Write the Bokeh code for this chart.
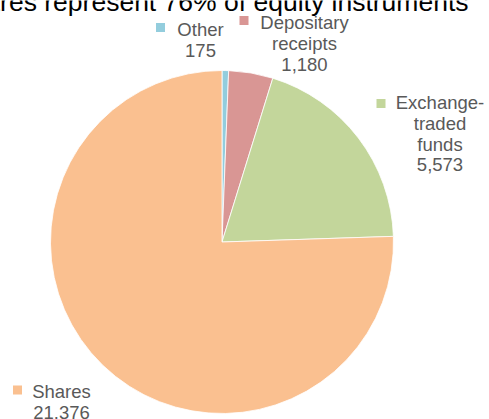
import numpy as np
from bokeh.plotting import figure
from bokeh.models import Range1d, ColumnDataSource
from bokeh.core.properties import value
from bokeh.embed import file_html
from bokeh.resources import INLINE

# ---- data ----
categories = ["Other", "Depositary\nreceipts", "Exchange-\ntraded\nfunds", "Shares"]
values = [175, 1180, 5573, 21376]
value_labels = ["175", "1,180", "5,573", "21.376"]
colors = ["#93CDDD", "#D99694", "#C3D69B", "#FAC090"]
title_text = "Shares represent 76% of equity instruments"

# ---- layout (screen pixels inside the figure, y up) ----
W, H = 489, 419
cx, cy, r = 221.5, 177.5, 171.5
# label anchors: (center x of text, baseline of first line), marker centre
label_anchor = [(200, 390), (304, 396.7), (439.5, 316.7), (61, 28)]
marker_pos = [(160, 392), (243.5, 399), (380.5, 316), (17, 29.5)]
line_step = 20.6

p = figure(width=W, height=H, output_backend="svg", toolbar_location=None,
           x_range=Range1d(0, W), y_range=Range1d(0, H), min_border=0,
           outline_line_color=None)
p.axis.visible = False
p.grid.visible = False
p.background_fill_color = "white"
p.border_fill_color = "white"

vals = np.array(values, dtype=float)
frac = vals / vals.sum()
cum = np.concatenate([[0], np.cumsum(frac)])
start = np.pi / 2 - cum[:-1] * 2 * np.pi
end = np.pi / 2 - cum[1:] * 2 * np.pi

src = ColumnDataSource(dict(start=start, end=end, color=colors))
p.wedge(x=cx, y=cy, radius=r, start_angle="start", end_angle="end",
        direction="clock", fill_color="color", line_color="white",
        line_width=0.8, source=src)

# labels
tx, ty, tt = [], [], []
for name, vl, (ax, ay) in zip(categories, value_labels, label_anchor):
    lines = name.split("\n") + [vl]
    for i, ln in enumerate(lines):
        tx.append(ax)
        ty.append(ay - i * line_step)
        tt.append(ln)
p.text(x=tx, y=ty, text=tt, text_align="center", text_baseline="alphabetic",
       text_font=value("Liberation Sans"), text_font_size="18.5px",
       text_color="#595959")

mx = [m[0] for m in marker_pos]
my = [m[1] for m in marker_pos]
p.rect(x=mx, y=my, width=9, height=9, width_units="screen",
       height_units="screen", fill_color=colors, line_color=None)

# title (partially cut at the top, as in the reference)
p.text(x=[468], y=[417.5], text=[title_text], text_align="right",
       text_baseline="alphabetic", text_font=value("Liberation Sans"),
       text_font_size="26.5px", text_color="#000000")

open("out.html", "w").write(file_html(p, INLINE))
